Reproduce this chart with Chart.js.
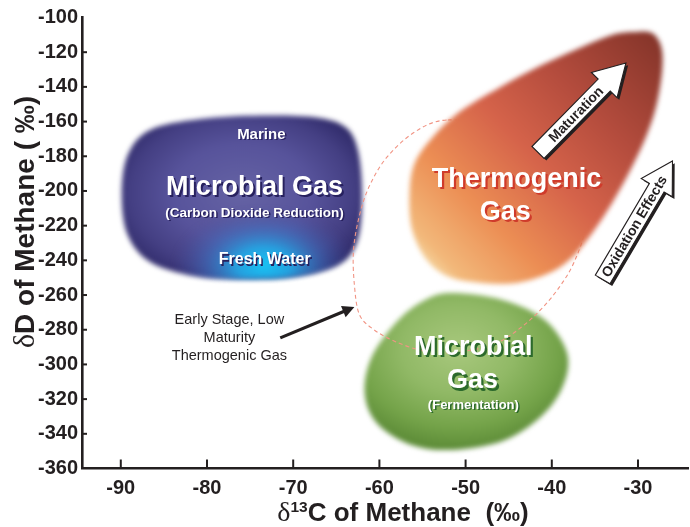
<!DOCTYPE html>
<html>
<head>
<meta charset="utf-8">
<script src="https://cdn.jsdelivr.net/npm/chart.js@4.4.1/dist/chart.umd.min.js"></script>
<style>
  html, body { margin: 0; padding: 0; background: #fff; }
  #wrap { width: 690px; height: 527px; }
</style>
</head>
<body>
<div id="wrap"><canvas id="chart" width="690" height="527"></canvas></div>
<script>
// axis ranges / ticks
var xMin = -94.5, xMax = -24.2, xStep = 10;
var yMin = -360, yMax = -100, yStep = 20;

// region outlines (d13C, dD)
var co2ReductionX = [-73.7, -67.5, -64.0, -62.5, -62.0, -62.5, -64.6, -69.3, -75.1, -81.4, -86.6, -89.2, -89.9, -89.2, -86.6, -80.8];
var co2ReductionY = [-156.5, -157.5, -163.0, -176.4, -202.3, -228.2, -242.1, -249.0, -250.7, -249.0, -240.9, -225.4, -202.3, -179.3, -164.8, -158.5];

var thermogenicX = [-30.7, -28.4, -27.3, -27.2, -27.8, -28.9, -30.7, -33.0, -35.3, -37.6, -40.3, -44.1, -48.1, -51.9, -54.5, -56.2, -56.5, -55.9, -53.8, -50.7, -46.1, -41.4, -36.5, -33.0];
var thermogenicY = [-108.4, -108.9, -117.0, -130.3, -149.3, -166.6, -186.2, -206.9, -224.2, -238.0, -247.3, -253.0, -253.0, -249.6, -239.8, -222.5, -201.2, -183.9, -168.9, -154.4, -140.5, -128.0, -117.0, -110.1];

var fermentationX = [-51.6, -45.7, -40.8, -38.2, -38.8, -41.4, -45.7, -51.6, -56.3, -60.2, -61.7, -60.9, -57.8, -54.7];
var fermentationY = [-258.8, -262.8, -274.4, -294.0, -313.5, -330.8, -344.1, -349.3, -346.4, -334.3, -317.0, -295.7, -274.4, -262.8];

var earlyStageX = [-52.2, -55.9, -59.1, -61.1, -62.3, -63.0, -62.9, -62.3, -60.6, -58.3, -55.4, -52.5, -49.2, -46.1, -43.5, -41.2, -39.1, -37.4, -36.2, -36.2, -38.6, -41.4, -46.1];
var earlyStageY = [-159.1, -166.0, -180.4, -196.5, -213.8, -234.0, -254.2, -271.5, -280.1, -286.5, -291.6, -293.4, -291.6, -287.0, -278.4, -268.0, -255.3, -240.9, -222.5, -199.4, -180.0, -170.6, -163.0];

// trend arrows: [tailX, tailY, tipX, tipY]
var maturationArrow = [-41.6, -177.8, -31.4, -126.2];
var oxidationArrow = [-34.1, -251.0, -26.0, -182.7];
var earlyStagePointer = [-71.5, -284.7, -62.9, -266.9];

var FONT = "'Liberation Sans', Arial, sans-serif";
var INK = '#231f20';

function toPoints(xs, ys) {
    return xs.map(function (x, i) { return { x: x, y: ys[i] }; });
}

function pix(chart, x, y) {
    return { x: chart.scales.x.getPixelForValue(x), y: chart.scales.y.getPixelForValue(y) };
}

// closed catmull-rom curve through the outline points
function curvePath(ctx, p) {
    var n = p.length;
    ctx.beginPath();
    ctx.moveTo(p[0].x, p[0].y);
    for (var i = 0; i < n; i++) {
        var p0 = p[(i - 1 + n) % n], p1 = p[i], p2 = p[(i + 1) % n], p3 = p[(i + 2) % n];
        ctx.bezierCurveTo(p1.x + (p2.x - p0.x) / 6, p1.y + (p2.y - p0.y) / 6,
                          p2.x - (p3.x - p1.x) / 6, p2.y - (p3.y - p1.y) / 6, p2.x, p2.y);
    }
    ctx.closePath();
}

function bbox(p) {
    var xs = p.map(function (q) { return q.x; }), ys = p.map(function (q) { return q.y; });
    var l = Math.min.apply(null, xs), r = Math.max.apply(null, xs);
    var t = Math.min.apply(null, ys), b = Math.max.apply(null, ys);
    return { l: l, r: r, t: t, b: b, cx: (l + r) / 2, cy: (t + b) / 2, w: r - l, h: b - t };
}

function ellFill(ctx, p, cx, cy, rx, ry, stops) {
    curvePath(ctx, p);
    ctx.save();
    ctx.translate(cx, cy);
    ctx.scale(1, ry / rx);
    var g = ctx.createRadialGradient(0, 0, 0, 0, 0, rx);
    stops.forEach(function (s) { g.addColorStop(s[0], s[1]); });
    ctx.fillStyle = g;
    ctx.fill();
    ctx.restore();
}

function metaPoints(chart, i) {
    return chart.getDatasetMeta(i).data.map(function (e) { return { x: e.x, y: e.y }; });
}

function hollowArrow(ctx, a, b, label, frac) {
    var ang = Math.atan2(b.y - a.y, b.x - a.x);
    var len = Math.hypot(b.x - a.x, b.y - a.y);
    var w = 17, hw = 36, hl = 31;
    function shape() {
        ctx.beginPath();
        ctx.moveTo(0, -w / 2);
        ctx.lineTo(len - hl, -w / 2);
        ctx.lineTo(len - hl, -hw / 2);
        ctx.lineTo(len, 0);
        ctx.lineTo(len - hl, hw / 2);
        ctx.lineTo(len - hl, w / 2);
        ctx.lineTo(0, w / 2);
        ctx.closePath();
    }
    ctx.save();
    ctx.translate(a.x + 2.2, a.y + 2.2);
    ctx.rotate(ang);
    shape();
    ctx.fillStyle = INK;
    ctx.fill();
    ctx.restore();

    ctx.save();
    ctx.translate(a.x, a.y);
    ctx.rotate(ang);
    shape();
    ctx.fillStyle = '#fff';
    ctx.fill();
    ctx.lineWidth = 1.1;
    ctx.strokeStyle = INK;
    ctx.stroke();
    ctx.fillStyle = INK;
    ctx.font = 'bold 14px ' + FONT;
    ctx.textAlign = 'center';
    ctx.textBaseline = 'middle';
    ctx.fillText(label, len * frac, 1);
    ctx.restore();
}

function shadowText(ctx, txt, x, y, size, shade, off) {
    ctx.font = 'bold ' + size + 'px ' + FONT;
    ctx.textAlign = 'center';
    ctx.textBaseline = 'middle';
    ctx.fillStyle = shade;
    ctx.fillText(txt, x + off, y + off);
    ctx.fillStyle = '#fff';
    ctx.fillText(txt, x, y);
}

// text labels placed in data coordinates
var blobLabels = [
    { t: 'Marine', x: -73.7, y: -167.4, size: 15, shade: '#27215e', off: 1.5 },
    { t: 'Microbial Gas', x: -74.5, y: -198.0, size: 27, shade: '#27215e', off: 2 },
    { t: '(Carbon Dioxide Reduction)', x: -74.5, y: -212.7, size: 13.5, shade: '#27215e', off: 1.5 },
    { t: 'Fresh Water', x: -73.3, y: -239.6, size: 16, shade: '#27215e', off: 1.5 },
    { t: 'Thermogenic', x: -44.1, y: -193.5, size: 27, shade: '#cf3b2b', off: 2.2 },
    { t: 'Gas', x: -45.4, y: -212.5, size: 27, shade: '#cf3b2b', off: 2.2 },
    { t: 'Microbial', x: -49.1, y: -290.0, size: 27, shade: '#2c6a2c', off: 2.2 },
    { t: 'Gas', x: -49.2, y: -309.5, size: 27, shade: '#2c6a2c', off: 2.2 },
    { t: '(Fermentation)', x: -49.1, y: -323.5, size: 13, shade: '#2c6a2c', off: 1.5 }
];
var noteLines = ['Early Stage, Low', 'Maturity', 'Thermogenic Gas'];
var noteX = -77.4, noteY = [-274.6, -285.0, -295.4];

var regionPlugin = {
    id: 'regions',
    beforeDatasetsDraw: function (chart) {
        var ctx = chart.ctx;
        var co2 = metaPoints(chart, 0), thermo = metaPoints(chart, 1),
            ferm = metaPoints(chart, 2), early = metaPoints(chart, 3);
        ctx.save();
        ctx.filter = 'blur(2.5px)';

        // CO2 reduction blob
        var bb = bbox(co2);
        ellFill(ctx, co2, bb.cx, bb.cy - 4, bb.w * 0.58, bb.h * 0.6,
            [[0, '#6563a4'], [0.5, '#57539b'], [0.8, '#443f83'], [1, '#2f2a69']]);
        ellFill(ctx, co2, bb.cx + 22, bb.b - 14, 92, 58,
            [[0, 'rgba(24,196,244,1)'], [0.3, 'rgba(34,170,232,0.9)'], [0.65, 'rgba(58,118,200,0.45)'], [1, 'rgba(70,80,160,0)']]);

        // fermentation blob
        bb = bbox(ferm);
        ellFill(ctx, ferm, bb.cx - 8, bb.cy - 22, bb.w * 0.62, bb.h * 0.62,
            [[0, '#a8c87d'], [0.45, '#91b966'], [0.8, '#74a349'], [1, '#5f8e39']]);
        ctx.filter = 'none';

        // early-stage dashed outline
        curvePath(ctx, early);
        ctx.setLineDash([4, 3]);
        ctx.lineWidth = 1.1;
        ctx.strokeStyle = '#f19484';
        ctx.stroke();
        ctx.setLineDash([]);

        // thermogenic blob
        ctx.filter = 'blur(2.5px)';
        bb = bbox(thermo);
        curvePath(ctx, thermo);
        var g = ctx.createLinearGradient(bb.l + 5, bb.b - 5, bb.r - 5, bb.t + 8);
        g.addColorStop(0, '#f8f2c6');
        g.addColorStop(0.1, '#f2b87a');
        g.addColorStop(0.28, '#ec8e54');
        g.addColorStop(0.5, '#d5634a');
        g.addColorStop(0.72, '#b44c3d');
        g.addColorStop(1, '#86352a');
        ctx.fillStyle = g;
        ctx.fill();
        ctx.restore();
    },
    afterDatasetsDraw: function (chart) {
        var ctx = chart.ctx;
        ctx.save();
        blobLabels.forEach(function (l) {
            var p = pix(chart, l.x, l.y);
            shadowText(ctx, l.t, p.x, p.y, l.size, l.shade, l.off);
        });

        hollowArrow(ctx, pix(chart, maturationArrow[0], maturationArrow[1]),
            pix(chart, maturationArrow[2], maturationArrow[3]), 'Maturation', 0.43);
        hollowArrow(ctx, pix(chart, oxidationArrow[0], oxidationArrow[1]),
            pix(chart, oxidationArrow[2], oxidationArrow[3]), 'Oxidation Effects', 0.45);

        // pointer to the dashed region
        var a = pix(chart, earlyStagePointer[0], earlyStagePointer[1]);
        var b = pix(chart, earlyStagePointer[2], earlyStagePointer[3]);
        var ang = Math.atan2(b.y - a.y, b.x - a.x);
        ctx.save();
        ctx.translate(a.x, a.y);
        ctx.rotate(ang);
        var len = Math.hypot(b.x - a.x, b.y - a.y);
        ctx.strokeStyle = INK;
        ctx.fillStyle = INK;
        ctx.lineWidth = 3.2;
        ctx.beginPath();
        ctx.moveTo(0, 0);
        ctx.lineTo(len - 9, 0);
        ctx.stroke();
        ctx.beginPath();
        ctx.moveTo(len, 0);
        ctx.lineTo(len - 12, -6);
        ctx.lineTo(len - 12, 6);
        ctx.closePath();
        ctx.fill();
        ctx.restore();

        ctx.font = '14.5px ' + FONT;
        ctx.fillStyle = INK;
        ctx.textAlign = 'center';
        ctx.textBaseline = 'middle';
        noteLines.forEach(function (s, i) {
            var p = pix(chart, noteX, noteY[i]);
            ctx.fillText(s, p.x, p.y);
        });
        ctx.restore();
    },
    afterDraw: function (chart) {
        var ctx = chart.ctx, xs = chart.scales.x, ys = chart.scales.y;
        var area = chart.chartArea;
        ctx.save();
        ctx.strokeStyle = INK;
        ctx.lineWidth = 2;
        // inward tick marks
        xs.ticks.forEach(function (t) {
            var x = xs.getPixelForValue(t.value);
            ctx.beginPath();
            ctx.moveTo(x, area.bottom);
            ctx.lineTo(x, area.bottom - 9);
            ctx.stroke();
        });
        ys.ticks.forEach(function (t) {
            if (t.value === yMin || t.value === yMax) return;
            var y = ys.getPixelForValue(t.value);
            ctx.beginPath();
            ctx.moveTo(area.left, y);
            ctx.lineTo(area.left + 5, y);
            ctx.stroke();
        });

        // axis titles
        ctx.fillStyle = INK;
        ctx.textBaseline = 'alphabetic';
        ctx.textAlign = 'left';
        // x title: delta, superscript 13, rest
        var f1 = '28px "Liberation Serif", serif', f2 = 'bold 15.5px ' + FONT, f3 = 'bold 26px ' + FONT;
        var s1 = '\u03b4', s2 = '13', s3 = 'C of Methane  (\u2030)';
        ctx.font = f1; var w1 = ctx.measureText(s1).width;
        ctx.font = f2; var w2 = ctx.measureText(s2).width;
        ctx.font = f3; var w3 = ctx.measureText(s3).width;
        var x0 = 403 - (w1 + w2 + w3) / 2, base = 521;
        ctx.font = f1; ctx.fillText(s1, x0, base);
        ctx.font = f2; ctx.fillText(s2, x0 + w1, base - 9.5);
        ctx.font = f3; ctx.fillText(s3, x0 + w1 + w2, base);

        // y title, rotated
        var g1 = '30px "Liberation Serif", serif', g3 = 'bold 28px ' + FONT;
        ctx.save();
        ctx.translate(34, 222);
        ctx.rotate(-Math.PI / 2);
        var t1 = '\u03b4', t2 = 'D of Methane ( \u2030)';
        ctx.font = g1; var v1 = ctx.measureText(t1).width;
        ctx.font = g3; var v2 = ctx.measureText(t2).width;
        var y0 = -(v1 + v2) / 2;
        ctx.font = g1; ctx.fillText(t1, y0, 0);
        ctx.font = g3; ctx.fillText(t2, y0 + v1, 0);
        ctx.restore();
        ctx.restore();
    }
};

var ctx = document.getElementById('chart').getContext('2d');
var chart = new Chart(ctx, {
    type: 'scatter',
    data: {
        datasets: [
            { label: 'Microbial Gas (Carbon Dioxide Reduction)', data: toPoints(co2ReductionX, co2ReductionY), pointRadius: 0, showLine: false },
            { label: 'Thermogenic Gas', data: toPoints(thermogenicX, thermogenicY), pointRadius: 0, showLine: false },
            { label: 'Microbial Gas (Fermentation)', data: toPoints(fermentationX, fermentationY), pointRadius: 0, showLine: false },
            { label: 'Early Stage, Low Maturity Thermogenic Gas', data: toPoints(earlyStageX, earlyStageY), pointRadius: 0, showLine: false }
        ]
    },
    options: {
        responsive: false,
        animation: false,
        events: [],
        layout: { padding: { top: 17.5, right: 2, left: 0, bottom: 0 } },
        plugins: { legend: { display: false }, tooltip: { enabled: false } },
        scales: {
            x: {
                type: 'linear',
                min: xMin, max: xMax,
                grid: { display: false, drawTicks: false },
                border: { display: true, color: INK, width: 2.6 },
                ticks: { stepSize: xStep, includeBounds: false, padding: 8, color: INK,
                         font: { family: FONT, size: 20, weight: 'bold' } },
                afterFit: function (s) { s.height = 58.5; }
            },
            y: {
                type: 'linear',
                min: yMin, max: yMax,
                grid: { display: false, drawTicks: false },
                border: { display: true, color: INK, width: 2.6 },
                ticks: { stepSize: yStep, padding: 4, color: INK,
                         font: { family: FONT, size: 20, weight: 'bold' } },
                afterFit: function (s) { s.width = 82; }
            }
        }
    },
    plugins: [regionPlugin]
});
</script>
</body>
</html>
